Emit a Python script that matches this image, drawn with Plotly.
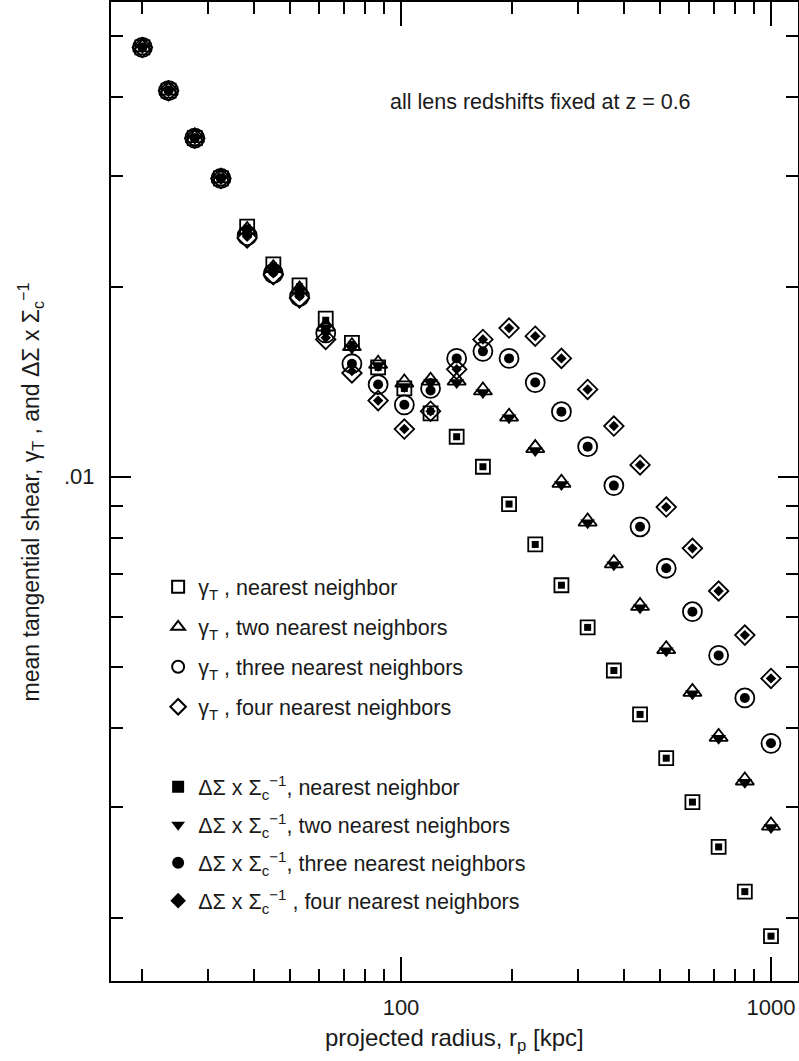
import plotly.graph_objects as go

# projected radius bins [kpc]
r_kpc = [20.0, 23.54, 27.71, 32.61, 38.39, 45.18, 53.18, 62.60, 73.68, 86.73,
         102.1, 120.2, 141.4, 166.5, 195.9, 230.6, 271.4, 319.5, 376.1, 442.7,
         521.0, 613.3, 721.9, 849.7, 1000.0]

# gamma_T (open symbols)
gamma_nn1 = [0.0479, 0.0409, 0.0344, 0.0297, 0.0249, 0.0217, 0.0201, 0.0178, 0.0163, 0.0149,
             0.0138, 0.0126, 0.01157, 0.01037, 0.00905, 0.00781, 0.00673, 0.00577, 0.00493, 0.00420,
             0.00358, 0.00305, 0.00259, 0.00220, 0.00187]
gamma_nn2 = [0.0479, 0.0409, 0.0344, 0.0297, 0.0246, 0.0214, 0.0198, 0.0173, 0.0161, 0.0151,
             0.0141, 0.0142, 0.0142, 0.0137, 0.01245, 0.0111, 0.00978, 0.00849, 0.00729, 0.00624,
             0.00533, 0.00456, 0.00387, 0.00330, 0.00280]
gamma_nn3 = [0.0479, 0.0409, 0.0344, 0.0297, 0.0241, 0.0210, 0.0193, 0.0169, 0.0151, 0.0140,
             0.0130, 0.0138, 0.0154, 0.0158, 0.0154, 0.0141, 0.01268, 0.01116, 0.00968, 0.00833,
             0.00716, 0.00611, 0.00521, 0.00446, 0.00378]
gamma_nn4 = [0.0479, 0.0409, 0.0344, 0.0297, 0.0239, 0.0209, 0.0192, 0.0165, 0.0146, 0.0132,
             0.0119, 0.0127, 0.0148, 0.0165, 0.0172, 0.0167, 0.0154, 0.01375, 0.01203, 0.01044,
             0.00895, 0.00770, 0.00659, 0.00561, 0.00479]

# Delta Sigma x Sigma_c^-1 (filled symbols)
dsig_nn1 = [0.0479, 0.0409, 0.0344, 0.0297, 0.0248, 0.0216, 0.0200, 0.0177, 0.0162, 0.0149,
            0.0138, 0.0127, 0.01157, 0.01037, 0.00905, 0.00781, 0.00673, 0.00577, 0.00493, 0.00420,
            0.00358, 0.00305, 0.00259, 0.00220, 0.00187]
dsig_nn2 = [0.0479, 0.0409, 0.0344, 0.0297, 0.0245, 0.0213, 0.0197, 0.0172, 0.0160, 0.0150,
            0.0139, 0.0141, 0.0141, 0.0136, 0.01240, 0.0110, 0.00972, 0.00845, 0.00725, 0.00620,
            0.00530, 0.00453, 0.00385, 0.00328, 0.00278]
dsig_nn3 = [0.0479, 0.0409, 0.0344, 0.0297, 0.0242, 0.0211, 0.0194, 0.0170, 0.0151, 0.0140,
            0.0130, 0.0137, 0.0154, 0.0158, 0.0154, 0.0141, 0.01268, 0.01116, 0.00968, 0.00833,
            0.00716, 0.00611, 0.00521, 0.00446, 0.00378]
dsig_nn4 = [0.0479, 0.0409, 0.0344, 0.0297, 0.0240, 0.0210, 0.0193, 0.0166, 0.0147, 0.0132,
            0.0119, 0.0127, 0.0148, 0.0165, 0.0172, 0.0167, 0.0154, 0.01375, 0.01203, 0.01044,
            0.00895, 0.00770, 0.00659, 0.00561, 0.00479]

open_names = [
    "γ<sub>T</sub> , nearest neighbor",
    "γ<sub>T</sub> , two nearest neighbors",
    "γ<sub>T</sub> , three nearest neighbors",
    "γ<sub>T</sub> , four nearest neighbors",
]
filled_names = [
    "ΔΣ x Σ<sub>c</sub><sup>−1</sup>, nearest neighbor",
    "ΔΣ x Σ<sub>c</sub><sup>−1</sup>, two nearest neighbors",
    "ΔΣ x Σ<sub>c</sub><sup>−1</sup>, three nearest neighbors",
    "ΔΣ x Σ<sub>c</sub><sup>−1</sup> , four nearest neighbors",
]

x_major = [100, 1000]
x_major_text = ["100", "1000"]
x_minor = [20, 30, 40, 50, 60, 70, 80, 90, 200, 300, 400, 500, 600, 700, 800, 900]
y_major = [0.01]
y_major_text = [".01"]
y_minor = [0.002, 0.003, 0.004, 0.005, 0.006, 0.007, 0.008, 0.009, 0.02, 0.03, 0.04, 0.05]

FONT = "Liberation Sans, Arial, Helvetica, sans-serif"
INK = "#1a1a1a"

fig = go.Figure()

open_series = [gamma_nn1, gamma_nn2, gamma_nn3, gamma_nn4]
open_symbols = ["square-open", "triangle-up-open", "circle-open", "diamond-open"]
open_sizes = [14, 16, 19, 15]
for i, (ys, sym, sz, nm) in enumerate(zip(open_series, open_symbols, open_sizes, open_names)):
    fig.add_trace(go.Scatter(
        x=r_kpc, y=ys, mode="markers", name=nm, legend="legend",
        legendgroup=f"o{i}",
        marker=dict(symbol=sym, size=sz, color="black", line=dict(width=1.8, color="black")),
    ))

filled_series = [dsig_nn1, dsig_nn2, dsig_nn3, dsig_nn4]
filled_symbols = ["square", "triangle-down", "circle", "diamond"]
filled_sizes = [7, 13, 10, 8]
for i, (ys, sym, sz, nm) in enumerate(zip(filled_series, filled_symbols, filled_sizes, filled_names)):
    fig.add_trace(go.Scatter(
        x=r_kpc, y=ys, mode="markers", name=nm, legend="legend2",
        legendgroup=f"f{i}",
        marker=dict(symbol=sym, size=sz, color="black", line=dict(width=0)),
    ))

axis_common = dict(
    type="log", showgrid=False, zeroline=False, automargin=False,
    showline=True, linecolor="black", linewidth=2, mirror="allticks",
    ticks="inside", tickcolor="black", tickwidth=1.5,
    tickfont=dict(family=FONT, size=22, color=INK),
)

fig.update_xaxes(
    **axis_common,
    range=[1.2162, 3.0730],
    tickmode="array", tickvals=x_major, ticktext=x_major_text, ticklen=24,
    minor=dict(tickmode="array", tickvals=x_minor, ticks="inside", ticklen=12,
               tickwidth=1.5, tickcolor="black", showgrid=False),
    ticklabelstandoff=6,
)
fig.update_yaxes(
    **axis_common,
    range=[-2.7992, -1.2477],
    tickmode="array", tickvals=y_major, ticktext=y_major_text, ticklen=20,
    minor=dict(tickmode="array", tickvals=y_minor, ticks="inside", ticklen=12,
               tickwidth=1.5, tickcolor="black", showgrid=False),
    ticklabelstandoff=10,
)

legend_common = dict(
    xanchor="left", yanchor="top", bgcolor="rgba(0,0,0,0)",
    font=dict(family=FONT, size=21.5, color=INK),
    itemsizing="constant", traceorder="grouped",
)

fig.update_layout(
    width=799, height=1061,
    margin=dict(l=111, r=1, t=2, b=80, autoexpand=False),
    plot_bgcolor="white", paper_bgcolor="white",
    font=dict(family=FONT, size=21, color=INK),
    showlegend=True,
    legend=dict(x=0.0686, y=0.4235, tracegroupgap=9, **legend_common),
    legend2=dict(x=0.0686, y=0.2193, tracegroupgap=7, **legend_common),
    annotations=[
        dict(text="all lens redshifts fixed at z = 0.6", xref="paper", yref="paper",
             x=0.403, y=0.898, xanchor="left", yanchor="middle", showarrow=False,
             font=dict(family=FONT, size=21.5, color=INK)),
        dict(text="projected radius, r<sub>p</sub> [kpc]", xref="paper", yref="paper",
             x=0.5, y=-0.060, xanchor="center", yanchor="middle", showarrow=False,
             font=dict(family=FONT, size=24, color=INK)),
        dict(text="mean tangential shear, γ<sub>T</sub> , and ΔΣ x Σ<sub>c</sub><sup>−1</sup>",
             xref="paper", yref="paper", x=-0.118, y=0.5, xanchor="center", yanchor="middle",
             textangle=-90, showarrow=False,
             font=dict(family=FONT, size=23, color=INK)),
    ],
)

fig.write_html(
    "out.html",
    config={"displayModeBar": False},
    post_script="document.body.style.margin='0';document.body.style.padding='0';"
                "document.documentElement.style.overflow='hidden';",
)
